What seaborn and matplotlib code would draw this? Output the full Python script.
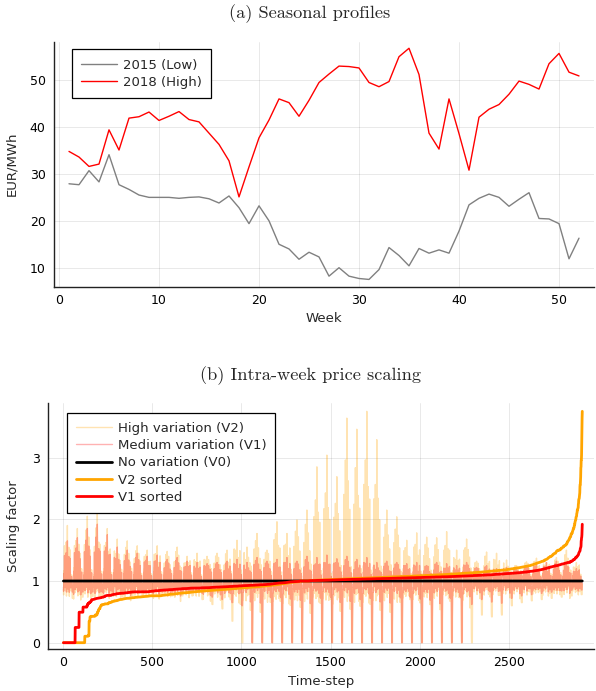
import numpy as np
import matplotlib
matplotlib.use("Agg")
import matplotlib.pyplot as plt
import seaborn as sns

# ---------------- data: (a) seasonal profiles ----------------
weeks = list(range(1, 53))
price_2015 = [27.9, 27.7, 30.7, 28.3, 34.1, 27.7, 26.7, 25.5, 25.0, 25.0,
              25.0, 24.8, 25.0, 25.1, 24.7, 23.8, 25.3, 22.8, 19.4, 23.2,
              20.0, 15.0, 14.0, 11.8, 13.3, 12.3, 8.2, 10.0, 8.2, 7.7,
              7.5, 9.6, 14.3, 12.6, 10.4, 14.1, 13.1, 13.8, 13.1, 17.8,
              23.4, 24.8, 25.7, 25.0, 23.1, 24.6, 26.0, 20.5, 20.4, 19.4,
              11.9, 16.3]
price_2018 = [34.8, 33.6, 31.6, 32.1, 39.4, 35.1, 41.9, 42.2, 43.2, 41.4,
              42.3, 43.3, 41.6, 41.1, 38.7, 36.3, 32.8, 25.1, 31.5, 37.7,
              41.5, 46.0, 45.2, 42.3, 45.7, 49.5, 51.3, 53.0, 52.9, 52.6,
              49.5, 48.6, 49.7, 55.0, 56.8, 51.2, 38.7, 35.3, 46.0, 38.6,
              30.8, 42.1, 43.8, 44.8, 47.0, 49.8, 49.1, 48.1, 53.5, 55.7,
              51.7, 50.9]

# ---------------- data: (b) intra-week scaling ----------------
# intra-week pattern (7 days x 8 three-hour blocks), read as relative shape
base_shape = [-0.45, -0.75, 0.15, 0.55, 0.25, 0.35, 0.90, 0.05,
              -0.40, -0.70, 0.25, 0.60, 0.30, 0.45, 1.00, 0.10,
              -0.35, -0.65, 0.20, 0.65, 0.35, 0.40, 1.00, 0.15,
              -0.40, -0.70, 0.10, 0.50, 0.20, 0.30, 0.85, 0.00,
              -0.45, -0.75, 0.05, 0.45, 0.15, 0.25, 0.80, -0.05,
              -0.55, -0.85, -0.35, 0.15, -0.15, -0.20, 0.55, -0.10,
              -0.50, -0.80, -0.80, -0.80, -0.80, -0.80, -0.80, -0.15]
spike_shape = [0, 0, 0, 0, 0, 0, 0.50, 0,
               0, 0, 0, 0, 0, 0, 0.70, 0,
               0, 0, 0, 0, 0, 0.35, 1.00, 0.30,
               0, 0, 0, 0, 0, 0, 0.55, 0,
               0, 0, 0, 0, 0, 0, 0.40, 0,
               0, 0, 0, 0, 0, 0, 0, 0,
               0, 0, 0, 0, 0, 0, 0, 0]
dip_shape_v2 = ([0] * 40 + [0, 0.15, 0.25, 0.20, 0.30, 0.20, 0, 0.05]
                + [0.55, 0.85, 1, 1, 1, 1, 1, 0.45])
dip_shape_v1 = ([0] * 40 + [0, 0.15, 0.25, 0.20, 0.30, 0.20, 0, 0.05]
                + [0.15, 0.40, 1, 1, 1, 0.70, 0.30, 0.10])
# day-to-day strength of the daily swing, Monday..Saturday (cycled over the year)
day_strength = [1.00, 0.70, 1.25, 0.85, 1.10, 0.60, 1.30, 0.90, 0.75, 1.15, 0.95, 1.20, 0.80]

# weekly maxima / minima / band half-width
v2_peak = [1.90, 1.85, 2.05, 2.10, 1.85, 1.68, 1.65, 1.57, 1.50, 1.57, 1.48, 1.55, 1.40,
           1.45, 1.40, 1.45, 1.50, 1.66, 1.55, 1.77, 1.50,
           1.96, 1.77, 1.99, 2.15, 2.85, 3.04, 2.69, 3.64, 3.46, 3.75, 3.29,
           2.15, 2.04, 1.66, 1.78, 1.71, 1.70, 1.80, 1.50, 1.68,
           1.32, 1.47, 1.45, 1.34, 1.25, 1.31, 1.37, 1.30, 1.38, 1.50, 1.30]
v2_trough = [0.72, 0.74, 0.75, 0.73, 0.76, 0.75, 0.77, 0.76, 0.78, 0.76, 0.77, 0.78, 0.76,
             0.70, 0.62, 0.55, 0.35,
             0, 0, 0, 0, 0, 0, 0, 0, 0, 0, 0, 0, 0, 0, 0, 0, 0, 0, 0, 0, 0, 0, 0, 0,
             0.45, 0.42, 0.45, 0.60, 0.65, 0.68, 0.70, 0.72, 0.74, 0.76, 0.78]
v2_band = [0.30] * 17 + [0.38] * 17 + [0.32] * 7 + [0.25] * 11

v1_peak = [1.65, 1.70, 1.85, 1.92, 1.75, 1.55, 1.50, 1.45, 1.40, 1.42, 1.35, 1.38, 1.32,
           1.30, 1.28, 1.30, 1.32, 1.35, 1.30, 1.38, 1.32,
           1.35, 1.38, 1.32, 1.40, 1.38, 1.42, 1.36, 1.40, 1.35, 1.38, 1.30, 1.32, 1.30,
           1.28, 1.30, 1.25, 1.30, 1.28, 1.25, 1.30,
           1.22, 1.25, 1.20, 1.22, 1.20, 1.25, 1.28, 1.30, 1.32, 1.30, 1.20]
v1_trough = [0.84, 0.85, 0.86, 0.84, 0.86, 0.87, 0.86, 0.87, 0.88, 0.87, 0.88, 0.88, 0.86,
             0.80, 0.74, 0.70, 0.65, 0.60,
             0, 0, 0, 0, 0, 0, 0, 0, 0, 0, 0, 0, 0, 0, 0, 0, 0, 0, 0, 0, 0, 0,
             0.62,
             0.70, 0.66, 0.64, 0.72, 0.76, 0.78, 0.80, 0.82, 0.84, 0.85, 0.86]
v1_band = [0.22] * 41 + [0.18] * 11


def build_series(peak, trough, band, dip_shape):
    base = np.array(base_shape)
    spike = np.array(spike_shape)
    dip = np.array(dip_shape)
    strength = np.array(day_strength)
    parts = []
    for w, (p, tr, b) in enumerate(zip(peak, trough, band)):
        days = np.arange(6 * w, 6 * w + 6) % len(strength)
        scale = np.concatenate([np.repeat(strength[days], 8), np.ones(8)])
        up = max(0.0, p - 1 - b)
        dn = max(0.0, 1 - tr - 0.8 * b)
        vals = 1 + b * np.minimum(base * scale, 1.0) + up * spike - dn * dip
        # keep the weekly maximum at the read peak value
        vals[22] = 1 + b + up
        parts.append(np.clip(vals, 0, None))
    return np.concatenate(parts)


v2 = build_series(v2_peak, v2_trough, v2_band, dip_shape_v2)
v1 = build_series(v1_peak, v1_trough, v1_band, dip_shape_v1)
steps = np.arange(1, len(v2) + 1)
v0 = np.ones(len(v2))
v2_sorted = np.sort(v2)
v1_sorted = np.sort(v1)

# ---------------- figure ----------------
sns.set_theme(style="white")
plt.rcParams['font.family'] = ['DejaVu Sans']
fig = plt.figure(figsize=(5.96, 6.91), dpi=100)

W, H = 596.0, 691.0
ax1 = fig.add_axes([54 / W, 1 - 286.7 / H, (593.5 - 54) / W, (286.7 - 41.7) / H])
ax2 = fig.add_axes([48.3 / W, 1 - 649.3 / H, (593.5 - 48.3) / W, (649.3 - 403) / H])

tick_fs = 9
lab_fs = 9.5
leg_fs = 9.5


def style_axes(ax):
    for s in ['top', 'right']:
        ax.spines[s].set_visible(False)
    for s in ['left', 'bottom']:
        ax.spines[s].set_color('#222222')
        ax.spines[s].set_linewidth(1.0)
    ax.grid(True, color='black', alpha=0.1, lw=0.6)
    ax.tick_params(direction='in', length=4, width=0.9, colors='#222222',
                   labelcolor='black', labelsize=tick_fs)
    ax.tick_params(axis='y', pad=6)
    ax.tick_params(axis='x', pad=5)


# (a)
sns.lineplot(x=weeks, y=price_2015, color='gray', lw=1.0, label='2015 (Low)', ax=ax1)
sns.lineplot(x=weeks, y=price_2018, color='red', lw=1.0, label='2018 (High)', ax=ax1)
ax1.set_xlim(-0.5, 53.45)
ax1.set_ylim(5.95, 58.2)
ax1.set_xticks([0, 10, 20, 30, 40, 50])
ax1.set_yticks([10, 20, 30, 40, 50])
style_axes(ax1)
ax1.set_xlabel('Week', fontsize=lab_fs)
ax1.set_ylabel('EUR/MWh', fontsize=lab_fs)
ax1.xaxis.set_label_coords(0.5, -0.102)
ax1.yaxis.set_label_coords(-0.066, 0.5)
leg1 = ax1.legend(loc='upper left', bbox_to_anchor=(0.033, 0.969), borderaxespad=0,
                  fontsize=leg_fs, frameon=True, fancybox=False, framealpha=1,
                  edgecolor='black', handlelength=2.7, handletextpad=0.45,
                  labelspacing=0.32, borderpad=0.7)
leg1.get_frame().set_linewidth(0.9)

# (b)
sns.lineplot(x=steps, y=v2, color='orange', alpha=0.3, lw=1.0,
             label='High variation (V2)', ax=ax2)
sns.lineplot(x=steps, y=v1, color='red', alpha=0.3, lw=1.0,
             label='Medium variation (V1)', ax=ax2)
sns.lineplot(x=steps, y=v0, color='black', lw=2.0, label='No variation (V0)', ax=ax2)
sns.lineplot(x=steps, y=v2_sorted, color='orange', lw=2.0, label='V2 sorted', ax=ax2)
sns.lineplot(x=steps, y=v1_sorted, color='red', lw=2.0, label='V1 sorted', ax=ax2)
ax2.set_xlim(-84, 2975)
ax2.set_ylim(-0.107, 3.885)
ax2.set_xticks([0, 500, 1000, 1500, 2000, 2500])
ax2.set_yticks([0, 1, 2, 3])
style_axes(ax2)
ax2.set_xlabel('Time-step', fontsize=lab_fs)
ax2.set_ylabel('Scaling factor', fontsize=lab_fs)
ax2.xaxis.set_label_coords(0.5, -0.104)
ax2.yaxis.set_label_coords(-0.051, 0.5)
leg2 = ax2.legend(loc='upper left', bbox_to_anchor=(0.034, 0.961), borderaxespad=0,
                  fontsize=leg_fs, frameon=True, fancybox=False, framealpha=1,
                  edgecolor='black', handlelength=2.7, handletextpad=0.45,
                  labelspacing=0.32, borderpad=0.7)
leg2.get_frame().set_linewidth(0.9)

# titles in a Computer Modern face
fig.text(310 / W, 1 - 13.5 / H, '(a) Seasonal profiles', fontfamily='cmr10',
         fontsize=13.2, ha='center', va='center')
fig.text(310 / W, 1 - 376 / H, '(b) Intra-week price scaling', fontfamily='cmr10',
         fontsize=13.2, ha='center', va='center')

fig.savefig('out.png', dpi=100)
